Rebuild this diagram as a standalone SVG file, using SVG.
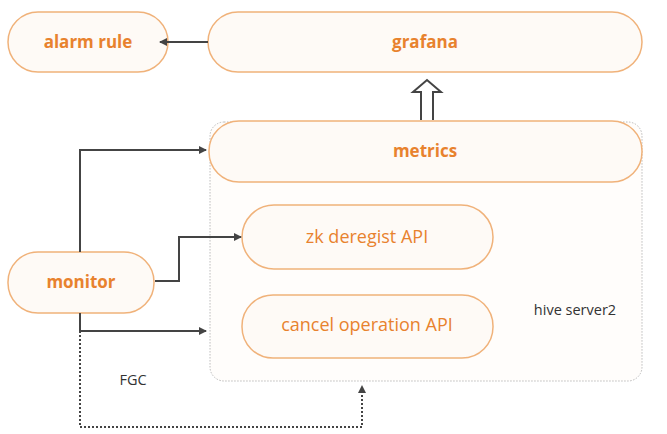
<svg xmlns="http://www.w3.org/2000/svg" width="667" height="434" viewBox="0 0 667 434">
<style>
.n{fill:#fefaf6;stroke:#f0b27a;stroke-width:1.5}
.t{font-family:"Open Sans","Liberation Sans",sans-serif;font-size:18px;fill:#e8822e;text-anchor:middle}
.b{font-weight:bold;font-size:17px}
.c{fill:none;stroke:#444;stroke-width:2}
.d{fill:none;stroke:#444;stroke-width:2;stroke-dasharray:2 2}
.k{font-family:"Open Sans","Liberation Sans",sans-serif;font-size:14.5px;fill:#333}
</style>
<defs><marker id="a" markerWidth="8" markerHeight="8" refX="7" refY="4" orient="auto" markerUnits="userSpaceOnUse"><path d="M0,0 L8,4 L0,8 z" fill="#444"/></marker></defs>
<rect x="210" y="122" width="432" height="259" rx="14" fill="#fffdfb" stroke="#bbb" stroke-width="1" stroke-dasharray="1.5 1.5"/>
<text class="k" x="575" y="315" text-anchor="middle">hive server2</text>
<g id="alarm"><rect class="n" x="8" y="12" width="160" height="60" rx="30"/><text class="t b" x="88" y="48">alarm rule</text></g>
<g id="grafana"><rect class="n" x="208" y="12" width="434" height="60" rx="30"/><text class="t b" x="425" y="48">grafana</text></g>
<g id="metrics"><rect class="n" x="209" y="121" width="433" height="61" rx="30"/><text class="t b" x="425" y="157">metrics</text></g>
<g id="zk"><rect class="n" x="242" y="205" width="251" height="64" rx="32"/><text class="t" x="367" y="243">zk deregist API</text></g>
<g id="cancel"><rect class="n" x="242" y="295" width="251" height="63" rx="31"/><text class="t" x="367" y="331">cancel operation API</text></g>
<g id="monitor"><rect class="n" x="8" y="252" width="146" height="61" rx="30"/><text class="t b" x="81" y="288">monitor</text></g>
<g id="connectors">
<path class="c" d="M208,42 H160" marker-end="url(#a)"/>
<path d="M421,120 V92 H413 L427,80 L441,92 H433 V120" fill="#fff" stroke="#444" stroke-width="2"/>
<path class="c" d="M80,252 V150 H206" marker-end="url(#a)"/>
<path class="c" d="M155,281 H179 V237 H241" marker-end="url(#a)"/>
<path class="c" d="M80,313 V331 H206" marker-end="url(#a)"/>
<path class="d" d="M80,331 V427 H362 V386" marker-end="url(#a)"/>
</g>
<text class="k" x="133" y="385" text-anchor="middle">FGC</text>
</svg>
